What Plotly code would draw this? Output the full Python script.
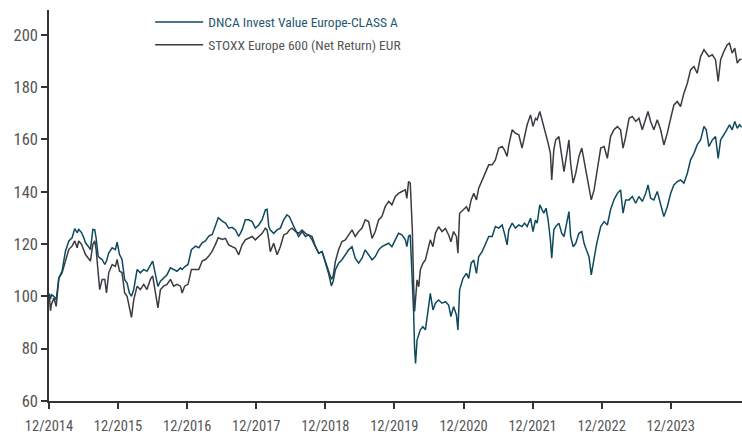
import plotly.graph_objects as go
import pandas as pd

# Dates as decimal years
decimal_years = [
    2014.917, 2014.936, 2014.951, 2014.985, 2015.018, 2015.057, 2015.105, 2015.153, 2015.202, 2015.250,
    2015.288, 2015.322, 2015.346, 2015.385, 2015.419, 2015.443, 2015.481, 2015.515, 2015.549, 2015.578,
    2015.597, 2015.626, 2015.650, 2015.684, 2015.723, 2015.747, 2015.780, 2015.829, 2015.877, 2015.901,
    2015.935, 2015.973, 2016.012, 2016.046, 2016.080, 2016.109, 2016.142, 2016.191, 2016.239, 2016.287,
    2016.335, 2016.384, 2016.417, 2016.456, 2016.494, 2016.528, 2016.576, 2016.625, 2016.673, 2016.721,
    2016.769, 2016.818, 2016.842, 2016.880, 2016.929, 2016.977, 2017.035, 2017.083, 2017.131, 2017.179,
    2017.228, 2017.276, 2017.324, 2017.363, 2017.421,
    2017.468, 2017.516, 2017.564, 2017.613, 2017.661, 2017.709, 2017.757, 2017.806, 2017.854, 2017.902,
    2017.950, 2017.999, 2018.047, 2018.071, 2018.095, 2018.119, 2018.168, 2018.216, 2018.264, 2018.312,
    2018.360, 2018.394, 2018.433, 2018.481, 2018.529, 2018.578, 2018.626, 2018.674, 2018.722, 2018.771,
    2018.819, 2018.867, 2018.915, 2018.964, 2019.002, 2019.030, 2019.060, 2019.108, 2019.156, 2019.205,
    2019.253, 2019.301, 2019.349, 2019.398, 2019.446, 2019.494, 2019.542, 2019.591, 2019.639, 2019.687,
    2019.735, 2019.784, 2019.832, 2019.880, 2019.928, 2019.976, 2020.025, 2020.073, 2020.097, 2020.121,
    2020.145,
    2020.156, 2020.175, 2020.194, 2020.209, 2020.223, 2020.243, 2020.267, 2020.291, 2020.329, 2020.363,
    2020.411, 2020.436, 2020.474, 2020.508, 2020.556, 2020.604, 2020.653, 2020.701, 2020.735, 2020.773,
    2020.812, 2020.836, 2020.860, 2020.908, 2020.957, 2020.990, 2021.024, 2021.063, 2021.101, 2021.135,
    2021.183, 2021.232, 2021.280, 2021.328, 2021.376, 2021.425, 2021.473, 2021.507, 2021.545, 2021.569,
    2021.618, 2021.666, 2021.714, 2021.762, 2021.796, 2021.835, 2021.883, 2021.921, 2021.955, 2021.979,
    2022.018, 2022.052, 2022.076, 2022.110, 2022.139, 2022.172, 2022.192, 2022.221,
    2022.249, 2022.297, 2022.336, 2022.370, 2022.418, 2022.442, 2022.466, 2022.500, 2022.539, 2022.587,
    2022.626, 2022.659, 2022.693, 2022.732, 2022.765, 2022.804, 2022.843, 2022.900, 2022.949, 2022.997,
    2023.045, 2023.093, 2023.142, 2023.190, 2023.224, 2023.262, 2023.311, 2023.359, 2023.407, 2023.455,
    2023.503, 2023.552, 2023.585, 2023.624, 2023.672, 2023.721, 2023.769, 2023.817, 2023.865, 2023.914,
    2023.962, 2024.010, 2024.058, 2024.106, 2024.155, 2024.203, 2024.251, 2024.299, 2024.348, 2024.396,
    2024.430, 2024.468, 2024.517, 2024.565, 2024.603, 2024.637, 2024.685, 2024.734, 2024.767, 2024.806,
    2024.844, 2024.878, 2024.912, 2024.941,
]

dnca_values = [
    101, 99, 100.6, 100, 98.7, 107, 109.6, 117.3, 121.2, 122.4,
    125.9, 124.4, 125.6, 124.4, 122.4, 120.5, 119.2, 117.9, 125.6, 125.4,
    122.4, 115.4, 114.7, 114.1, 112.2, 113.5, 116.7, 118.6, 117.9, 120.7,
    116, 114.1, 106.4, 105.1, 101.3, 100, 102.6, 110.3, 109, 110.3,
    109.6, 112.2, 113.5, 108.3, 103.8, 105.8, 107, 108.3, 110.9, 110.3,
    109.6, 110.9, 110.3, 111.3, 112.2, 117.9, 119.2, 118.6, 120.5, 121.2,
    123.1, 123.7, 126.9, 130.1, 128.8,
    128, 126.1, 126.4, 125.4, 122.9, 125.4, 129.3, 129.3, 128.6, 126.1,
    127.3, 129.3, 133.1, 133.3, 126.7, 125.4, 124.1, 125.4, 126.1, 129.3,
    131.2, 130.5, 128, 125.4, 122.9, 124.8, 122.9, 123.5, 121.6, 119,
    116.5, 117.1, 113.3, 108.5, 104, 106, 110.1, 112.7, 114, 115.9,
    117.8, 119, 114.6, 112.7, 114.6, 117.8, 115.9, 114, 115.2, 117.8,
    119, 119.7, 120.3, 119, 121.6, 124.1, 123.5, 121.6, 119, 122.9,
    123.5,
    117.8, 108.8, 93.5, 80, 74.4, 83.3, 85.9, 87.2, 88.4, 87.2,
    96.1, 101.2, 94.8, 97.4, 98.6, 97.4, 98, 96.7, 92.3, 96.1,
    92.9, 87.2, 102.5, 106.9, 108.8, 106.9, 112.7, 113.9, 108.8, 115.2,
    117.1, 120.3, 122.9, 122.9, 126.7, 126.1, 127.3, 124.1, 119.7, 125.4,
    128, 126.1, 127.3, 126.7, 128, 126.7, 129.9, 124.8, 129.2, 128,
    135, 133.1, 131.8, 133.7, 129.2, 121.6, 114.6, 125.4,
    126.7, 128, 124.1, 122.9, 130.5, 132.4, 122.9, 119, 120.3, 124.1,
    124.8, 120.3, 117.8, 115.2, 108.2, 113.9, 120.3, 126.7, 128.6, 127.3,
    133.1, 136.9, 139.4, 140.7, 131.8, 136.9, 136.9, 138.2, 135.6, 138.2,
    136.3, 139.4, 142.6, 137.5, 136.9, 140.1, 135.6, 130.5, 134.3, 139.4,
    142.6, 143.9, 144.5, 143.3, 147.1, 152.2, 154.7, 157.9, 159.8, 165,
    163.7, 157.3, 159.8, 161.1, 152.8, 159.8, 161.8, 164.3, 165.6, 163.7,
    166.9, 164.3, 165.6, 164.7,
]

stoxx_values = [
    101, 94.5, 97, 99.4, 96.2, 107, 109, 114, 118, 119.2,
    121.2, 118.6, 121.2, 119.9, 117.3, 116, 114.7, 113.5, 119.9, 121.2,
    118, 107.8, 102.6, 106.5, 106.5, 101.3, 109.1, 112.2, 111.5, 114.1,
    109.6, 109.1, 101.3, 100, 96.2, 92, 98.7, 103.9, 102.6, 104.6,
    102.6, 106.5, 107.8, 101.3, 95.6, 102.6, 103.9, 104.6, 106.5, 103.9,
    104.6, 103.9, 101.3, 103.9, 104.6, 110.3, 110.3, 110.3, 113.5, 114.1,
    115.4, 117.3, 119.9, 122.4, 121.8,
    122.2, 119.7, 119, 118.4, 115.9, 119.7, 121.6, 122.2, 122.9, 121.6,
    122.9, 124.1, 126.1, 125.4, 121.6, 117.1, 120.3, 115.9, 119, 123.5,
    124.1, 125.4, 126.1, 124.8, 124.1, 125.4, 124.1, 123.5, 122.9, 119,
    116.5, 117.1, 113.3, 110.1, 106.5, 108, 113.3, 117.8, 121, 121.6,
    123.5, 125.4, 122.9, 124.8, 126.1, 129.3, 128.6, 122.2, 124.8, 129.3,
    130.5, 134.4, 136.3, 135, 138.2, 139.4, 140.1, 140.7, 137.5, 143.9,
    143.3,
    136.9, 125.4, 103.7, 94.2, 99, 106.3, 103.7, 110.1, 112.7, 113.9,
    119, 121.6, 119, 124.1, 126.7, 124.8, 126, 123.5, 120.9, 124.8,
    122.9, 116.5, 131.8, 133.1, 134.3, 132.4, 136.9, 139.4, 136.9, 141.4,
    144.5, 147.1, 150.3, 150.3, 152.2, 156.7, 157.3, 156, 153.5, 157.9,
    163.7, 162.4, 161.8, 156.7, 161.1, 165.6, 169.4, 165, 168.1, 167.5,
    170.7, 167.5, 165.6, 162.4, 158.6, 154.7, 144.5, 156,
    159.8, 161.1, 153.5, 147.7, 156, 159.8, 150.9, 143.3, 147.1, 153.5,
    156.7, 152.2, 147.1, 142, 136.9, 140.7, 147.1, 156.7, 157.3, 152.8,
    161.1, 163.7, 164.9, 163.7, 156.7, 161.1, 168.1, 168.8, 166.9, 168.1,
    163.7, 167.5, 170.7, 166.9, 163.7, 167.5, 163.7, 157.9, 162.4, 168.1,
    173.2, 174.5, 172.6, 177.7, 181.5, 186.6, 187.9, 185.3, 191.7, 194.3,
    193, 191.7, 192.4, 190.5, 182.2, 190.5, 193.6, 196.2, 196.8, 193,
    194.9, 189.2, 190.5, 190.7,
]

tick_dates = ["2014-12-01", "2015-12-01", "2016-12-01", "2017-12-01", "2018-12-01",
              "2019-12-01", "2020-12-01", "2021-12-01", "2022-12-01", "2023-12-01"]
tick_labels = ["12/2014", "12/2015", "12/2016", "12/2017", "12/2018",
               "12/2019", "12/2020", "12/2021", "12/2022", "12/2023"]
y_ticks = [60, 80, 100, 120, 140, 160, 180, 200]

series_names = ["DNCA Invest Value Europe-CLASS A", "STOXX Europe 600 (Net Return) EUR"]


def to_date(y):
    year = int(y)
    start = pd.Timestamp(year=year, month=1, day=1)
    return start + pd.Timedelta(days=round((y - year) * 365.25))


dates = [to_date(y) for y in decimal_years]

TEAL = "#0e4a5e"
GREY = "#3b3c42"
FONT = "Roboto Condensed, Liberation Sans Narrow, DejaVu Sans Condensed, sans-serif"

fig = go.Figure()
fig.add_trace(go.Scatter(x=dates, y=stoxx_values, mode="lines", name=series_names[1],
                         line=dict(color=GREY, width=1.5), legend="legend2", showlegend=True))
fig.add_trace(go.Scatter(x=dates, y=dnca_values, mode="lines", name=series_names[0],
                         line=dict(color=TEAL, width=1.5), legend="legend", showlegend=True))

fig.update_layout(
    width=742, height=436, autosize=False,
    showlegend=True,
    margin=dict(l=49, r=0, t=10, b=35),
    paper_bgcolor="white", plot_bgcolor="white",
    font=dict(family=FONT, color="#555555"),
    legend=dict(x=0.146, y=0.969, xanchor="left", yanchor="middle",
                font=dict(size=13.5, color="#1f5870", family=FONT),
                bgcolor="rgba(0,0,0,0)", itemwidth=48),
    legend2=dict(x=0.146, y=0.9105, xanchor="left", yanchor="middle",
                 font=dict(size=13.5, color="#555555", family=FONT),
                 bgcolor="rgba(0,0,0,0)", itemwidth=48, visible=True),
    xaxis=dict(
        type="date", range=["2014-12-01", "2024-12-12"],
        tickvals=tick_dates, ticktext=tick_labels,
        showgrid=False, zeroline=False,
        showline=True, linecolor="#333333", linewidth=1.5,
        ticks="outside", ticklen=6, tickcolor="#333333", tickwidth=1.5,
        ticklabelstandoff=5,
        tickfont=dict(size=14.5, color="#555555", family=FONT),
    ),
    yaxis=dict(
        range=[60, 209.5], tickvals=y_ticks,
        showgrid=False, zeroline=False,
        showline=True, linecolor="#333333", linewidth=1.5,
        ticks="outside", ticklen=6, tickcolor="#333333", tickwidth=1.5,
        tickfont=dict(size=16.5, color="#555555", family=FONT),
    ),
)

fig.write_html("out.html", config={"displayModeBar": False},
               post_script="document.body.style.margin='0px';")
